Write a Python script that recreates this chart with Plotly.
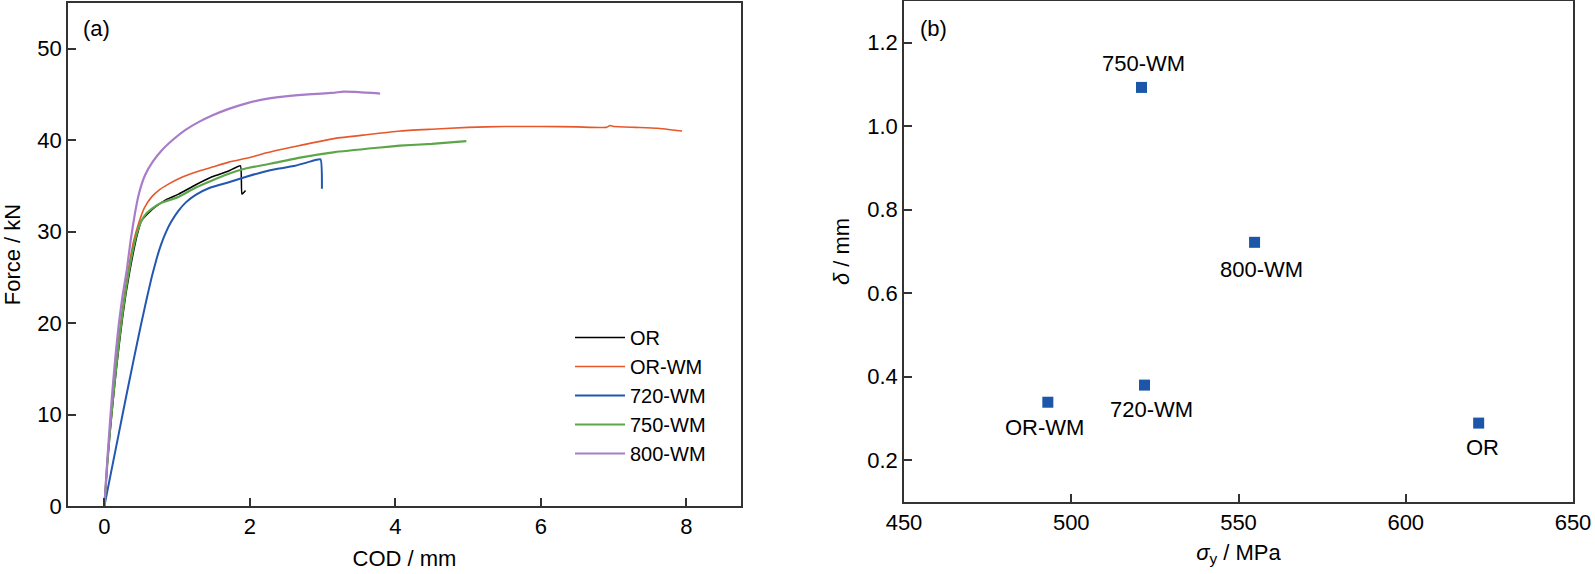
import plotly.graph_objects as go
from plotly.subplots import make_subplots

# (a) force vs crack opening displacement
cod_or = [0, 0.04, 0.08, 0.12, 0.16, 0.2, 0.25, 0.3, 0.35, 0.4, 0.45, 0.51, 0.6, 0.7, 0.85,
          1.02, 1.25, 1.48, 1.7, 1.87, 1.89, 1.94]
f_or = [0, 4.5, 8.2, 11.5, 14.6, 17.4, 20.6, 23.4, 25.7, 27.8, 29.6, 31.2, 32.0, 32.7, 33.5,
        34.1, 35.1, 36.0, 36.6, 37.2, 34.1, 34.5]

cod_orwm = [0, 0.04, 0.08, 0.12, 0.16, 0.2, 0.25, 0.3, 0.35, 0.4, 0.47, 0.55, 0.65, 0.76, 0.88,
            1.05, 1.25, 1.5, 1.71, 2.0, 2.17, 2.62, 3.17, 3.6, 4.06, 4.5, 5.0, 5.5, 6.0, 6.5,
            6.9, 6.95, 7.0, 7.3, 7.6, 7.94]
f_orwm = [0, 4.8, 8.8, 12.3, 15.5, 18.5, 21.6, 24.4, 26.8, 28.9, 30.9, 32.6, 33.8, 34.6, 35.2,
          35.9, 36.5, 37.1, 37.6, 38.1, 38.5, 39.3, 40.2, 40.6, 41.0, 41.2, 41.4, 41.5, 41.5, 41.45,
          41.4, 41.6, 41.5, 41.4, 41.3, 41.0]

cod_720 = [0, 0.1, 0.2, 0.3, 0.4, 0.5, 0.58, 0.65, 0.72, 0.78, 0.85, 0.92, 1.02, 1.12, 1.25,
           1.45, 1.71, 1.95, 2.17, 2.4, 2.62, 2.8, 2.97, 2.99]
f_720 = [0, 4.0, 8.0, 12.0, 15.9, 19.7, 22.6, 25.0, 27.1, 28.6, 30.0, 31.1, 32.3, 33.2, 34.0,
         34.8, 35.4, 36.0, 36.5, 36.9, 37.2, 37.6, 37.9, 34.7]

cod_750 = [0, 0.04, 0.08, 0.12, 0.16, 0.2, 0.25, 0.3, 0.35, 0.4, 0.45, 0.51, 0.58, 0.65, 0.8,
           1.02, 1.25, 1.48, 1.7, 1.94, 2.39, 2.69, 3.17, 3.79, 4.06, 4.5, 4.975]
f_750 = [0, 4.6, 8.5, 11.9, 15.0, 17.9, 21.1, 23.9, 26.2, 28.3, 29.9, 31.2, 32.0, 32.5, 33.2,
         33.8, 34.8, 35.6, 36.3, 36.9, 37.6, 38.1, 38.7, 39.2, 39.4, 39.6, 39.9]

cod_800 = [0, 0.04, 0.08, 0.12, 0.16, 0.2, 0.25, 0.31, 0.36, 0.42, 0.48, 0.56, 0.67, 0.79, 0.95,
           1.11, 1.3, 1.48, 1.7, 1.94, 2.15, 2.39, 2.8, 3.17, 3.28, 3.5, 3.79]
f_800 = [0, 5.0, 9.5, 13.5, 17.0, 20.0, 23.0, 25.9, 29.0, 32.0, 34.3, 36.2, 37.7, 38.9, 40.1,
         41.1, 42.0, 42.7, 43.4, 44.0, 44.4, 44.7, 45.0, 45.2, 45.3, 45.25, 45.1]

# (b) CTOD vs yield strength
samples = ['OR', 'OR-WM', '720-WM', '750-WM', '800-WM']
sigma_y = [621.8, 493.0, 521.9, 521.0, 554.8]
delta = [0.289, 0.339, 0.380, 1.093, 0.722]

curves = [
    ('OR', cod_or, f_or, '#000000', 1.5),
    ('OR-WM', cod_orwm, f_orwm, '#e8572a', 1.6),
    ('720-WM', cod_720, f_720, '#2357b0', 2.0),
    ('750-WM', cod_750, f_750, '#5ca548', 2.2),
    ('800-WM', cod_800, f_800, '#a77cc8', 2.2),
]

font = 'Liberation Sans, Arial, sans-serif'
axis_col = '#333333'
fs = 22

fig = make_subplots(rows=1, cols=2)

for name, x, y, col, w in curves:
    fig.add_trace(go.Scatter(x=x, y=y, mode='lines', name=name,
                             line=dict(color=col, width=w, shape='spline', smoothing=0.4)),
                  row=1, col=1)

fig.add_trace(go.Scatter(x=sigma_y, y=delta, mode='markers', showlegend=False,
                         marker=dict(symbol='square', size=11, color='#1b56a8')),
              row=1, col=2)

# label offsets in pixels (xshift, yshift) for the scatter labels
label_shift = {
    'OR': (4, -24),
    'OR-WM': (-3, -25),
    '720-WM': (7, -24),
    '750-WM': (2, 24),
    '800-WM': (7, -27),
}
for s, xv, yv in zip(samples, sigma_y, delta):
    dx, dy = label_shift[s]
    fig.add_annotation(x=xv, y=yv, xref='x2', yref='y2', text=s, showarrow=False,
                       xshift=dx, yshift=dy, font=dict(size=fs, color='black'))

for lbl, px, py in [('(a)', 96, 28), ('(b)', 933, 28)]:
    fig.add_annotation(x=px / 1595, y=1 - py / 574, xref='paper', yref='paper', text=lbl,
                       xanchor='center', yanchor='middle', showarrow=False,
                       font=dict(size=fs, color='black'))

ax = dict(showline=True, mirror=True, linecolor=axis_col, linewidth=1.5, ticks='inside',
          ticklen=8, tickcolor=axis_col, tickwidth=1.5, showgrid=False, zeroline=False,
          automargin=False, tickfont=dict(size=fs, color='black'),
          title_font=dict(size=fs, color='black'))

fig.update_xaxes(ax)
fig.update_yaxes(ax)

fig.update_layout(
    xaxis=dict(domain=[68 / 1595, 741 / 1595], range=[-0.5, 8.75], tickvals=[0, 2, 4, 6, 8],
               title=dict(text='COD / mm', standoff=12)),
    yaxis=dict(domain=[1 - 506 / 574, 1 - 3 / 574], range=[0, 55], dtick=10,
               title=dict(text='Force / kN', standoff=12)),
    xaxis2=dict(domain=[904 / 1595, 1573 / 1595], range=[450, 650], dtick=50,
                title=dict(text='<i>σ</i><sub>y</sub> / MPa', standoff=10)),
    yaxis2=dict(domain=[1 - 502 / 574, 1 - 1 / 574], range=[0.1, 1.3],
                tickvals=[0.2, 0.4, 0.6, 0.8, 1.0, 1.2], tickformat='.1f',
                title=dict(text='<i>δ</i> / mm', standoff=12)),
    legend=dict(x=570 / 1595, y=1 - 318 / 574, xanchor='left', yanchor='top',
                font=dict(size=20, color='black'), bgcolor='rgba(0,0,0,0)',
                itemwidth=50, tracegroupgap=0),
    width=1595, height=574,
    margin=dict(l=0, r=0, t=0, b=0),
    paper_bgcolor='white', plot_bgcolor='white',
    font=dict(family=font, color='black'),
)

fig.write_html('out.html', config={'displayModeBar': False},
               post_script="document.body.style.margin='0';")
